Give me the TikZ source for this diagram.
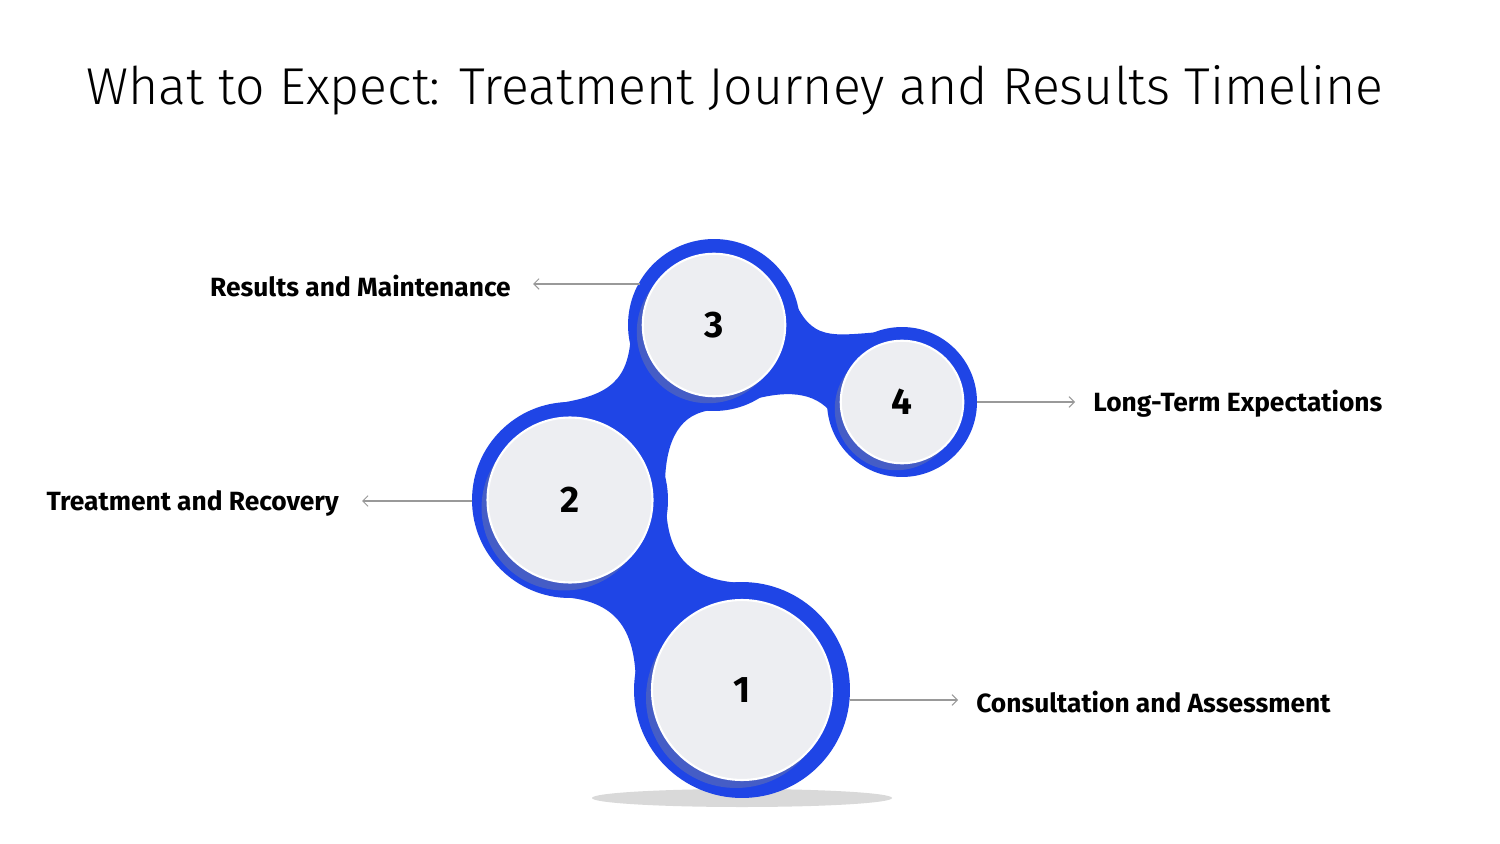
\documentclass[tikz,border=0pt]{standalone}
\usepackage{fontspec}
\setmainfont{Fira Sans}
\usetikzlibrary{arrows.meta}
\definecolor{blu}{HTML}{1F45E6}
\definecolor{disc}{HTML}{EDEEF2}
\begin{document}
\begin{tikzpicture}[x=0.02cm,y=-0.02cm,
  outer/.style={circle,fill=blu,inner sep=0pt},
  inner/.style={circle,fill=disc,draw=white,line width=1.2pt,inner sep=0pt,font=\fontsize{21}{24}\selectfont\bfseries,text=black},
  shade/.style={circle,fill=black!45,opacity=0.35,inner sep=0pt},
  lbl/.style={font=\fontsize{15}{18}\selectfont\bfseries,text=black,inner sep=0pt},
  con/.style={draw=gray!80,line width=0.6pt,-{Straight Barb[length=3pt,width=6pt]}}]
\useasboundingbox[fill=white] (0,0) rectangle (1500,844);
\node[font=\fontsize{29.5}{34}\selectfont\fontspec{Fira Sans Light},anchor=west] (title) at (80,90) {What to Expect: Treatment Journey and Results Timeline};
\fill[gray!30] (742,798) ellipse (150 and 9);
% connecting blobs
\fill[blu] (636,690) .. controls (636,640) and (625,600) .. (560,597) -- (570,500) -- (666,500)
  .. controls (666,545) and (680,580) .. (742,583) -- (742,690) -- cycle;
\fill[blu] (560,403) .. controls (610,395) and (630,380) .. (631,330) -- (714,325) -- (714,410)
  .. controls (680,412) and (666,440) .. (665,482) -- (570,500) -- cycle;
\fill[blu] (794,300) .. controls (812,340) and (830,336) .. (880,332) -- (902,402) -- (829,410)
  .. controls (810,390) and (780,390) .. (738,404) -- (714,325) -- cycle;
\node[outer,minimum size=4.32cm] (o1) at (742,690) {};
\node[outer,minimum size=3.92cm] (o2) at (570,500) {};
\node[outer,minimum size=3.44cm] (o3) at (714,325) {};
\node[outer,minimum size=3.0cm] (o4) at (902,402) {};
\node[shade,minimum size=3.6cm] (s1) at (736,698) {};
\node[shade,minimum size=3.3cm] (s2) at (564,508) {};
\node[shade,minimum size=2.85cm] (s3) at (708,332) {};
\node[shade,minimum size=2.45cm] (s4) at (896,409) {};
\node[inner,minimum size=3.6cm] (c1) at (742,690) {1};
\node[inner,minimum size=3.3cm] (c2) at (570,500) {2};
\node[inner,minimum size=2.85cm] (c3) at (714,325) {3};
\node[inner,minimum size=2.45cm] (c4) at (902,402) {4};
\node[lbl,anchor=east] (l3) at (511,286) {Results and Maintenance};
\node[lbl,anchor=east] (l2) at (339,503) {Treatment and Recovery};
\node[lbl,anchor=west] (l4) at (1093,404) {Long-Term Expectations};
\node[lbl,anchor=west] (l1) at (976,702) {Consultation and Assessment};
\coordinate (a3) at (640,284); \coordinate (b3) at (533,284);
\draw[con] (a3) -- (b3);
\coordinate (a2) at (472,501); \coordinate (b2) at (362,501);
\draw[con] (a2) -- (b2);
\coordinate (a4) at (977,402); \coordinate (b4) at (1075,402);
\draw[con] (a4) -- (b4);
\coordinate (a1) at (850,700); \coordinate (b1) at (958,700);
\draw[con] (a1) -- (b1);
\end{tikzpicture}
\end{document}
